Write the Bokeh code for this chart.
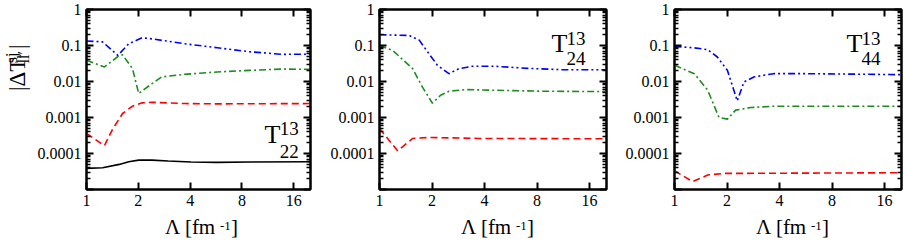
import math
from bokeh.plotting import figure
from bokeh.layouts import row, column
from bokeh.models import Range1d, FixedTicker, LogAxis, Label
from bokeh.core.properties import value
from bokeh.embed import file_html
from bokeh.resources import INLINE

# ---------------- data ----------------
x_ticks = [1, 2, 4, 8, 16]
x_tick_labels = ["1", "2", "4", "8", "16"]
y_ticks = [1e-5, 1e-4, 1e-3, 1e-2, 1e-1, 1]
y_tick_labels = ["", "0.0001", "0.001", "0.01", "0.1", "1"]

panel_subscripts = ["22", "24", "44"]
panel_superscript = "13"

# panel 1 (T^13_22)
blue1_x = [1.0, 1.24, 1.52, 1.76, 2.1, 2.4, 3.7, 5.74, 8.88, 13.7, 20.0]
blue1_y = [0.133, 0.126, 0.053, 0.112, 0.164, 0.153, 0.112, 0.0867, 0.067, 0.0567, 0.0575]
green1_x = [1.0, 1.27, 1.55, 1.62, 1.85, 2.01, 2.4, 2.73, 3.7, 5.74, 8.88, 13.7, 20.0]
green1_y = [0.0387, 0.0253, 0.053, 0.055, 0.0227, 0.00462, 0.00873, 0.0134, 0.0158, 0.0184, 0.0204, 0.0222, 0.0217]
red1_x = [1.0, 1.27, 1.42, 1.62, 1.85, 2.1, 2.4, 3.7, 5.74, 20.0]
red1_y = [3.6e-4, 1.64e-4, 4.8e-4, 1.29e-3, 2.06e-3, 2.55e-3, 2.65e-3, 2.44e-3, 2.39e-3, 2.44e-3]
black1_x = [1.0, 1.24, 1.55, 1.76, 2.01, 2.4, 2.98, 4.05, 5.74, 8.88, 20.0]
black1_y = [3.86e-5, 4.03e-5, 4.98e-5, 5.9e-5, 6.56e-5, 6.56e-5, 6.16e-5, 5.78e-5, 5.66e-5, 5.78e-5, 5.9e-5]

# panel 2 (T^13_24)
blue2_x = [1.0, 1.48, 1.69, 1.92, 2.15, 2.5, 2.85, 3.39, 4.61, 7.1, 11.0, 20.0]
blue2_y = [0.199, 0.19, 0.141, 0.059, 0.028, 0.0165, 0.0227, 0.0264, 0.0264, 0.0232, 0.0213, 0.0213]
green2_x = [1.0, 1.19, 1.55, 1.76, 2.01, 2.24, 2.5, 3.11, 4.61, 8.88, 20.0]
green2_y = [0.1, 0.073, 0.0227, 0.00706, 0.00249, 0.00415, 0.00536, 0.00596, 0.00571, 0.00536, 0.00525]
red2_x = [1.0, 1.27, 1.55, 1.92, 3.7, 20.0]
red2_y = [4.95e-4, 1.19e-4, 2.62e-4, 2.79e-4, 2.62e-4, 2.56e-4]

# panel 3 (T^13_44)
blue3_x = [1.0, 1.3, 1.55, 1.76, 2.01, 2.29, 2.5, 2.85, 3.7, 5.74, 20.0]
blue3_y = [0.0944, 0.086, 0.0764, 0.0479, 0.0204, 0.00289, 0.0097, 0.0134, 0.0165, 0.0165, 0.0155]
green3_x = [1.0, 1.3, 1.55, 1.8, 2.01, 2.24, 2.73, 3.7, 20.0]
green3_y = [0.0281, 0.0165, 0.0057, 0.001, 9e-4, 1.6e-3, 1.89e-3, 2.06e-3, 2.06e-3]
red3_x = [1.0, 1.27, 1.55, 1.92, 3.7, 20.0]
red3_y = [3.32e-5, 1.65e-5, 2.52e-5, 2.8e-5, 2.83e-5, 2.92e-5]

# ---------------- styling ----------------
FONT = "Liberation Serif"
X_MIN, X_MAX = 1, 20
Y_MIN, Y_MAX = 1e-5, 1
COLORS = {"blue": "#0000ff", "green": "#1e8c1e", "red": "#ff0000", "black": "#000000"}
DASH = {"blue": "7 3 2 3 2 3", "green": "7 3 2 3", "red": "7 4", "black": "solid"}
DESC = 0.22  # baseline -> bottom of text box, as a fraction of the font size

ROW_H = 214      # height of the row of panels
TITLE_H = 34     # height of the strip holding the x titles
FRAME_W = 227
YT_W = 34        # width of the strip holding the y title
y_minor = [k * 10.0 ** e for e in range(-5, 0) for k in range(2, 10)]


def frac(fx, fy):
    """frame fraction -> data coordinates (for text placement)"""
    lx = math.log10(X_MIN) + fx * (math.log10(X_MAX) - math.log10(X_MIN))
    ly = math.log10(Y_MIN) + fy * (math.log10(Y_MAX) - math.log10(Y_MIN))
    return 10 ** lx, 10 ** ly


def style_axis(ax, show_labels, standoff, ticks):
    ax.axis_line_width = 2
    ax.axis_line_color = "black"
    ax.major_tick_in = 7
    ax.major_tick_out = 0
    ax.minor_tick_in = 4
    ax.minor_tick_out = 0
    ax.major_tick_line_width = 2
    ax.minor_tick_line_width = 1.5
    ax.major_tick_line_color = "black"
    ax.minor_tick_line_color = "black"
    ax.major_label_text_font = FONT
    ax.major_label_text_font_style = "normal"
    ax.major_label_text_color = "black"
    if show_labels:
        ax.major_label_text_font_size = "16px"
        ax.major_label_standoff = standoff
    else:
        ax.major_label_overrides = {t: "" for t in ticks}
        ax.major_label_text_font_size = "1px"
        ax.major_label_text_alpha = 0
        ax.major_label_standoff = 0


def add_label(p, fx, fy, text, size):
    x, y = frac(fx, fy)
    p.add_layout(Label(x=x, y=y, text=text, text_font=FONT, text_font_size=f"{size}px",
                       text_baseline="bottom", text_align="left", text_color="black",
                       y_offset=-DESC * size))


def make_panel(series, sub, width, bl, br, t_pos):
    p = figure(width=width, height=ROW_H, x_axis_type="log", y_axis_type="log",
               x_range=Range1d(X_MIN, X_MAX), y_range=Range1d(Y_MIN, Y_MAX),
               output_backend="svg", toolbar_location=None,
               min_border_left=bl, min_border_right=br, min_border_top=9, min_border_bottom=25)
    p.grid.visible = False
    p.outline_line_color = "black"
    p.outline_line_width = 2
    p.background_fill_color = "white"
    p.border_fill_color = "white"

    bottom = p.below[0]
    left = p.left[0]
    xt = FixedTicker(ticks=x_ticks, minor_ticks=[])
    yt = FixedTicker(ticks=y_ticks, minor_ticks=y_minor)
    bottom.ticker = xt
    left.ticker = yt
    bottom.major_label_overrides = dict(zip(x_ticks, x_tick_labels))
    left.major_label_overrides = dict(zip(y_ticks, y_tick_labels))
    top = LogAxis(ticker=xt)
    right = LogAxis(ticker=yt)
    p.add_layout(top, "above")
    p.add_layout(right, "right")
    style_axis(bottom, True, 5, x_ticks)
    style_axis(left, True, 5, y_ticks)
    style_axis(top, False, 0, x_ticks)
    style_axis(right, False, 0, y_ticks)

    for name, xs, ys in series:
        p.line(xs, ys, color=COLORS[name], line_width=1.6, line_dash=DASH[name])

    # panel label T^13_sub
    tfx, tfy, sfx, supfy, subfy = t_pos
    add_label(p, tfx, tfy, "T", 26)
    add_label(p, sfx, supfy, panel_superscript, 19)
    add_label(p, sfx, subfy, sub, 19)
    return p


def text_fig(width, height, x0, x1, ytop, ybot):
    f = figure(width=width, height=height, x_range=Range1d(x0, x1), y_range=Range1d(ybot, ytop),
               output_backend="svg", toolbar_location=None,
               x_axis_location=None, y_axis_location=None,
               min_border=0, min_border_left=0, min_border_right=0,
               min_border_top=0, min_border_bottom=0)
    f.grid.visible = False
    f.xgrid.grid_line_color = None
    f.ygrid.grid_line_color = None
    f.outline_line_color = None
    f.background_fill_color = "white"
    f.border_fill_color = "white"
    return f


def put(f, x, y, text, size, align="left", angle=0.0):
    """draw text with its baseline start at (x, y) in page pixels"""
    d = DESC * size
    if angle:
        ax, ay = x + d, y
    else:
        ax, ay = x, y + d
    f.text(x=[ax], y=[ay], text=[text], text_font=value(FONT), text_font_size=value(f"{size}px"),
           text_baseline="bottom", text_align=align, text_color="black", angle=angle)


# ---- y-axis title strip (page x 0..YT_W) ----
ytitle = text_fig(YT_W, ROW_H, 0, YT_W, 0, ROW_H)
A = math.pi / 2
put(ytitle, 24, 97, "|ΔT", 23, angle=A)
put(ytitle, 16, 64, "sj", 16, angle=A)
put(ytitle, 28, 64, "ll′", 16, angle=A)
put(ytitle, 24, 47, "|", 23, angle=A)

p1 = make_panel([("black", black1_x, black1_y), ("red", red1_x, red1_y),
                 ("green", green1_x, green1_y), ("blue", blue1_x, blue1_y)],
                panel_subscripts[0], 318 - YT_W, 83 - YT_W, 8, (0.795, 0.256, 0.863, 0.328, 0.20))
p2 = make_panel([("red", red2_x, red2_y), ("green", green2_x, green2_y), ("blue", blue2_x, blue2_y)],
                panel_subscripts[1], 296, 61, 8, (0.758, 0.761, 0.824, 0.828, 0.717))
p3 = make_panel([("red", red3_x, red3_y), ("green", green3_x, green3_y), ("blue", blue3_x, blue3_y)],
                panel_subscripts[2], 291, 60, 4, (0.758, 0.761, 0.824, 0.828, 0.717))

# ---- x-axis title strip (page y ROW_H..ROW_H+TITLE_H) ----
xtitle = text_fig(905, TITLE_H, 0, 905, ROW_H, ROW_H + TITLE_H)
frame_lefts = [83, 379, 674]
for fl in frame_lefts:
    pos = fl + FRAME_W / 2 + 24
    put(xtitle, pos, 234, "Λ  [fm", 21, align="right")
    put(xtitle, pos - 1, 227, "-1", 13)
    put(xtitle, pos + 10, 234, "]", 21)

layout = column(row(ytitle, p1, p2, p3), xtitle)
open("out.html", "w").write(file_html(layout, INLINE))
